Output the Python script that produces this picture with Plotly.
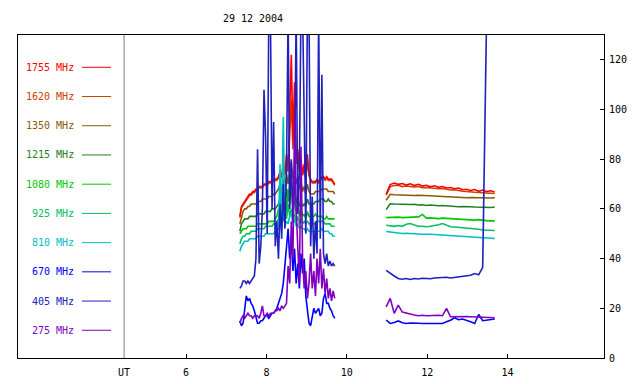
import plotly.graph_objects as go

# ---- data ----
t1 = [round(7.34 + 0.04 * i, 2) for i in range(60)]   # first observing block (UT hours)
t2 = [round(10.98 + 0.1 * i, 2) for i in range(28)]   # second observing block (UT hours)

freqs = ["1755 MHz", "1620 MHz", "1350 MHz", "1215 MHz", "1080 MHz",
         "925 MHz", "810 MHz", "670 MHz", "405 MHz", "275 MHz"]
colors = ["#ff0000", "#d04000", "#8b5a00", "#208020", "#00c800",
          "#00c060", "#00c0c0", "#0000ff", "#2020c0", "#8000c0"]

f1755_a = [57, 61, 62, 63, 64, 65, 66, 66, 67, 67,
           68, 68, 69, 69, 69, 70, 70, 70, 71, 71,
           71, 72, 72, 72, 73, 75, 73, 78, 74, 82,
           76, 98, 122, 88, 111, 80, 84, 76, 80, 74,
           78, 73, 82, 74, 72, 71, 71, 71, 72, 71,
           72, 73, 73, 72, 73, 72, 72, 72, 71, 70]
f1755_b = [66, 69.8, 70.4, 69.9, 70.2, 69.6, 70.1, 69.4, 69.9, 69.2, 69.5, 68.9, 69.3, 68.7,
           69.0, 68.4, 68.6, 68.1, 68.4, 67.7, 67.9, 67.4, 67.8, 67.1, 67.6, 67.0, 67.3, 66.8]

f1620_a = [56.5, 60.5, 61.5, 62.5, 63.5, 64.5, 65.5, 65.5, 66.5, 66.5,
           67.5, 67.5, 68.5, 68.5, 68.5, 69.5, 69.5, 69.5, 70.5, 70.5,
           70.5, 71.5, 71.5, 71.5, 72.5, 74, 72.5, 76, 73.5, 79,
           75, 90, 104, 84, 98, 78, 81, 75, 78, 73.5,
           76, 72.5, 79, 73.5, 71.5, 70.5, 70.5, 70.5, 71.5, 70.5,
           71.5, 72.5, 72.5, 71.5, 72.5, 71.5, 71.5, 71.5, 70.5, 69.5]
f1620_b = [65.5, 69, 69.4, 69.5, 69, 69.2, 69, 68.8, 69, 68.5, 68.6, 68.4, 68.3, 68.1,
           68.2, 67.8, 67.6, 67.7, 67.3, 67.1, 67, 67, 66.7, 66.6, 66.5, 66.6, 66.3, 66.2]

f1350_a = [54, 57, 59, 60, 60, 61, 61, 62, 62, 62,
           62, 63, 63, 63, 64, 64, 64, 64, 65, 65,
           65, 66, 66, 67, 68, 70, 67, 72, 68, 74,
           70, 76, 79, 72, 75, 70, 73, 68, 71, 67,
           69, 66, 70, 67, 66, 66, 66, 67, 67, 67,
           67, 68, 68, 68, 68, 67, 67, 67, 67, 66]
f1350_b = [63.5, 65.9, 65.7, 65.6, 65.7, 65.5, 65.6, 65.4, 65.5, 65.5, 65.3, 65.5, 65.2, 65.1,
           65.0, 65.2, 64.8, 64.9, 64.6, 64.8, 64.5, 64.6, 64.5, 64.4, 64.6, 64.5, 64.4, 64.5]

f1215_a = [51, 54, 55, 56, 56, 56, 57, 57, 57, 57,
           57, 58, 58, 58, 58, 58, 59, 59, 59, 59,
           60, 60, 60, 61, 62, 64, 61, 66, 62, 68,
           63, 70, 72, 64, 68, 62, 65, 61, 63, 61,
           62, 61, 64, 62, 62, 62, 62, 63, 63, 63,
           64, 64, 64, 63, 63, 64, 63, 63, 62, 62]
f1215_b = [59.7, 62.1, 62.0, 61.9, 62.1, 61.8, 61.8, 61.9, 61.6, 61.7, 61.4, 61.6, 61.4, 61.3,
           61.4, 61.2, 61.0, 61.1, 60.9, 61.0, 60.8, 60.9, 60.8, 60.7, 60.9, 60.8, 60.6, 60.8]

f1080_a = [50, 51, 52, 52, 52, 53, 53, 53, 53, 53,
           53, 54, 54, 54, 54, 54, 54, 54, 55, 55,
           55, 55, 56, 57, 60, 58, 63, 57, 65, 59,
           68, 62, 69, 60, 64, 58, 62, 57, 60, 57,
           58, 56, 59, 57, 57, 57, 57, 58, 57, 57,
           57, 57, 56, 56, 57, 56, 56, 56, 56, 56]
f1080_b = [56.5, 56.6, 56.5, 56.7, 56.5, 56.6, 56.7, 56.5, 56.8, 57.8, 56.3, 56.4, 56.2, 56.1,
           56.3, 56.2, 56.0, 55.9, 56.0, 55.7, 55.8, 55.6, 55.5, 55.7, 55.4, 55.3, 55.2, 55.1]

f925_a = [46, 48, 49, 49, 50, 50, 50, 51, 51, 51,
          51, 52, 52, 52, 52, 52, 53, 53, 53, 53,
          53, 54, 54, 55, 56, 55, 58, 55, 60, 56,
          62, 57, 60, 56, 58, 55, 57, 54, 56, 54,
          55, 54, 55, 54, 54, 54, 54, 54, 55, 55,
          55, 55, 55, 54, 54, 54, 54, 53, 53, 53]
f925_b = [53.4, 53.2, 53.0, 53.3, 53.0, 53.8, 54.1, 53.5, 53.0, 53.0, 52.8, 53.0, 53.2, 53.6,
          54.1, 53.6, 52.8, 52.7, 52.6, 52.3, 52.2, 52.1, 52.0, 51.8, 51.5, 51.4, 51.4, 51.3]

f810_a = [43, 45, 46, 47, 47, 47, 48, 48, 48, 48,
          48, 49, 49, 49, 49, 49, 50, 50, 50, 50,
          50, 50, 51, 51, 52, 78, 52, 97, 53, 55,
          54, 57, 58, 54, 56, 53, 54, 52, 53, 52,
          52, 51, 52, 51, 51, 51, 51, 51, 51, 51,
          51, 52, 51, 51, 51, 51, 50, 50, 49, 49]
f810_b = [50.9, 50.7, 50.4, 50.3, 50.1, 50.2, 50.0, 50.1, 49.9, 49.8, 49.9, 49.8, 49.7, 49.6,
          49.7, 49.5, 49.4, 49.3, 49.3, 49.1, 49.0, 48.9, 48.7, 48.8, 48.6, 48.4, 48.3, 48.1]

f670_a = [15, 13, 14, 20, 25, 23, 24, 22, 21, 19,
          16, 14, 14, 15, 15, 16, 17, 17, 16, 17,
          18, 18, 19, 20, 22, 24, 26, 30, 38, 46,
          52, 40, 48, 35, 44, 30, 38, 28, 42, 34,
          40, 25, 18, 14, 13, 16, 20, 18, 19, 20,
          17, 18, 24, 26, 22, 22, 20, 19, 17, 16]
f670_b = [15.3, 13.9, 14.3, 14.9, 14.2, 13.9, 14.1, 13.9, 14.0, 13.9, 13.9, 14.2, 13.9, 14.1,
          13.9, 14.6, 15.2, 16.2, 15.4, 15.7, 15.3, 14.6, 13.9, 17.5, 15.0, 15.3, 15.4, 15.7]

f405_a = [28, 29, 31, 31, 30, 31, 30, 31, 32, 33,
          40, 84, 38, 45, 60, 108, 89, 50, 140, 140,
          60, 95, 45, 55, 40, 62, 48, 70, 52, 75,
          140, 60, 80, 55, 70, 140, 58, 75, 140, 140,
          97, 50, 140, 140, 45, 65, 40, 55, 42, 140,
          48, 114, 42, 38, 42, 37, 39, 37, 38, 37]
f405_b = [35.3, 34.0, 33.0, 32.0, 31.7, 32.0, 31.6, 32.0, 31.8, 32.1, 32.0, 31.9, 32.2,
          32.3, 32.1, 32.5, 32.2, 32.4, 32.6, 32.8, 33.0, 33.3, 34.0, 33.5, 36.5, 140]

f275_a = [14, 16, 17, 16, 17, 18, 17, 17, 16, 17,
          17, 17, 16, 18, 21, 17, 17, 18, 17, 18,
          18, 18, 19, 19, 20, 19, 21, 20, 21, 22,
          37, 30, 55, 40, 96, 60, 45, 30, 85, 40,
          28, 35, 24, 30, 42, 28, 35, 25, 40, 30,
          44, 28, 36, 26, 32, 24, 28, 23, 27, 24]
f275_b = [20.6, 24.0, 18.0, 21.3, 18.5, 18.0, 17.5, 17.3, 17.0, 17.2, 17.0, 17.1, 17.0, 17.2,
          17.0, 20.0, 16.6, 16.7, 16.6, 16.6, 16.7, 16.6, 16.5, 16.6, 16.5, 16.4, 16.3, 16.2]

series = {
    "1755 MHz": (f1755_a, f1755_b), "1620 MHz": (f1620_a, f1620_b),
    "1350 MHz": (f1350_a, f1350_b), "1215 MHz": (f1215_a, f1215_b),
    "1080 MHz": (f1080_a, f1080_b), "925 MHz": (f925_a, f925_b),
    "810 MHz": (f810_a, f810_b), "670 MHz": (f670_a, f670_b),
    "405 MHz": (f405_a, f405_b), "275 MHz": (f275_a, f275_b),
}
for k, (a, b) in series.items():
    assert len(a) == len(t1), k
    assert len(b) <= len(t2), k

# ---- figure ----
FONT = "DejaVu Sans Mono"
fig = go.Figure()

draw_order = ["1620 MHz", "1755 MHz", "1350 MHz", "1215 MHz", "1080 MHz",
              "925 MHz", "810 MHz", "405 MHz", "670 MHz", "275 MHz"]
for name in draw_order:
    a, b = series[name]
    col = colors[freqs.index(name)]
    xs = t1 + [None] + t2[:len(b)]
    ys = a + [None] + b
    fig.add_trace(go.Scatter(x=xs, y=ys, mode="lines", name=name,
                             line=dict(color=col, width=1.6), connectgaps=False,
                             showlegend=False))

# plot area geometry (pixels)
L, R, T, B = 18, 604, 35, 358
W, H = R - L, B - T

# custom legend: label on the left, short line on the right
for k, (name, col) in enumerate(zip(freqs, colors)):
    py = 67.3 + 29.22 * k
    yp = (B - py) / H
    fig.add_annotation(x=(76 - L) / W, y=yp, xref="paper", yref="paper",
                       text=name, showarrow=False, xanchor="right", yanchor="middle",
                       font=dict(family=FONT, size=10, color=col))
    fig.add_shape(type="line", xref="paper", yref="paper",
                  x0=(82 - L) / W, x1=(111 - L) / W, y0=yp, y1=yp,
                  line=dict(color=col, width=1))

# gray separator and UT label
UT_X = 4.46
fig.add_shape(type="line", xref="x", yref="paper", x0=UT_X, x1=UT_X, y0=0, y1=1,
              line=dict(color="#808080", width=1))
fig.add_annotation(x=UT_X, y=-14 / H, xref="x", yref="paper", text="UT",
                   showarrow=False, xanchor="center", yanchor="middle",
                   font=dict(family=FONT, size=10, color="black"))

fig.update_layout(
    width=640, height=384,
    margin=dict(l=L, r=640 - R, t=T, b=384 - B),
    paper_bgcolor="white", plot_bgcolor="white",
    title=dict(text="29 12 2004", x=253 / 640, y=1 - 18 / 384,
               xanchor="center", yanchor="middle",
               font=dict(family=FONT, size=10, color="black")),
    xaxis=dict(range=[1.821, 16.398], tickvals=[6, 8, 10, 12, 14],
               ticks="inside", ticklen=4, tickcolor="black", automargin=False,
               showline=True, linecolor="black", linewidth=1, mirror=True,
               showgrid=False, zeroline=False, ticklabelstandoff=5,
               tickfont=dict(family=FONT, size=10, color="black")),
    yaxis=dict(range=[0, 130], side="right", tickvals=[0, 20, 40, 60, 80, 100, 120],
               ticks="inside", ticklen=4, tickcolor="black", automargin=False,
               showline=True, linecolor="black", linewidth=1, mirror=True,
               showgrid=False, zeroline=False, ticklabelstandoff=2,
               tickfont=dict(family=FONT, size=10, color="black")),
)

fig.write_html("out.html")
